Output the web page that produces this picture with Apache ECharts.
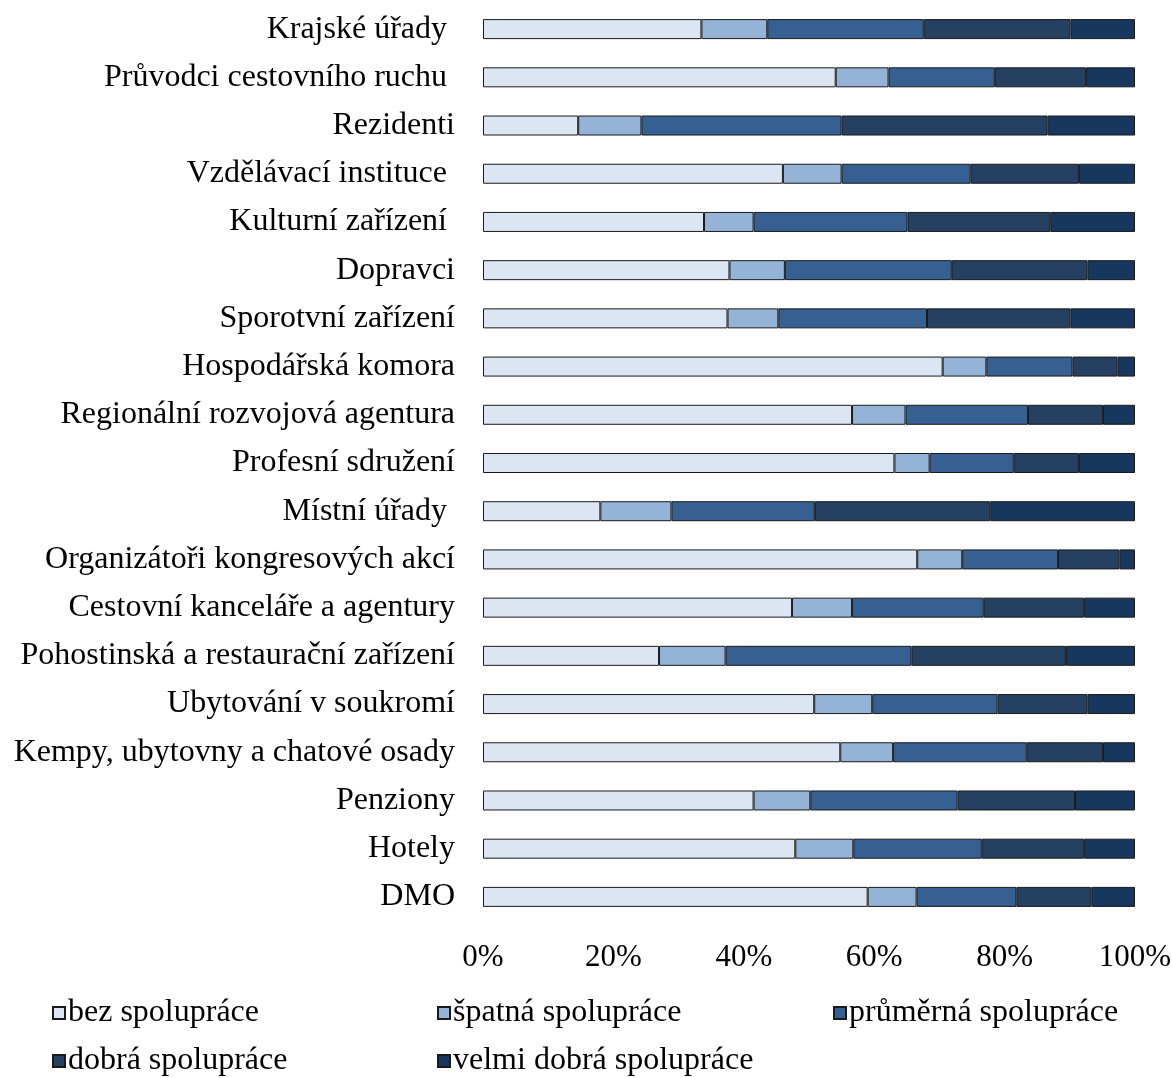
<!DOCTYPE html>
<html>
<head>
<meta charset="utf-8">
<script src="https://cdn.jsdelivr.net/npm/echarts@6/dist/echarts.min.js"></script>
<style>
  html, body { margin: 0; padding: 0; background: #ffffff; }
  #chart { width: 1172px; height: 1078px; }
</style>
</head>
<body>
<div id="chart"></div>
<script>
// Subjects of cooperation (top to bottom)
const categories = [
  'Krajské úřady ',
  'Průvodci cestovního ruchu ',
  'Rezidenti',
  'Vzdělávací instituce ',
  'Kulturní zařízení ',
  'Dopravci',
  'Sporotvní zařízení',
  'Hospodářská komora',
  'Regionální rozvojová agentura',
  'Profesní sdružení',
  'Místní úřady ',
  'Organizátoři kongresových akcí',
  'Cestovní kanceláře a agentury',
  'Pohostinská a restaurační zařízení',
  'Ubytování v soukromí',
  'Kempy, ubytovny a chatové osady',
  'Penziony',
  'Hotely',
  'DMO'
];

// Share of answers (%) per level of cooperation
const bezSpoluprace = [33.5, 54.1, 14.6, 46.0, 33.9, 37.8, 37.5, 70.5, 56.6, 63.1, 18.0, 66.6, 47.4, 27.0, 50.8, 54.8, 41.5, 47.9, 59.0];
const spatnaSpoluprace = [10.1, 8.1, 9.7, 9.0, 7.6, 8.5, 7.8, 6.7, 8.2, 5.4, 10.9, 6.9, 9.2, 10.2, 8.9, 8.1, 8.7, 8.9, 7.5];
const prumernaSpoluprace = [24.0, 16.3, 30.7, 19.8, 23.6, 25.6, 22.8, 13.2, 18.8, 12.9, 22.0, 14.7, 20.2, 28.5, 19.2, 20.5, 22.6, 19.7, 15.3];
const dobraSpoluprace = [22.5, 14.0, 31.6, 16.6, 21.9, 20.8, 22.0, 6.9, 11.5, 10.0, 26.9, 9.4, 15.4, 23.7, 13.8, 11.7, 18.0, 15.7, 11.5];
const velmiDobraSpoluprace = [9.9, 7.5, 13.4, 8.6, 13.0, 7.3, 9.9, 2.7, 4.9, 8.6, 22.2, 2.4, 7.8, 10.6, 7.3, 4.9, 9.2, 7.8, 6.7];

const seriesNames = ['bez spolupráce', 'špatná spolupráce', 'průměrná spolupráce', 'dobrá spolupráce', 'velmi dobrá spolupráce'];
const seriesValues = [bezSpoluprace, spatnaSpoluprace, prumernaSpoluprace, dobraSpoluprace, velmiDobraSpoluprace];
const colors = ['#DCE6F2', '#95B3D7', '#366092', '#254061', '#17375E'];

const FONT = "'Liberation Serif', 'Times New Roman', serif";

const labelStyle = { fontFamily: FONT, fontSize: 32, color: '#000000' };
const tickStyle = { fontFamily: FONT, fontSize: 31, color: '#000000' };

// one legend block per entry, laid out in two rows
const legendSpots = [
  { left: 52, top: 997 },
  { left: 437, top: 997 },
  { left: 833, top: 997 },
  { left: 52, top: 1045 },
  { left: 437, top: 1045 }
];

const chart = echarts.init(document.getElementById('chart'), null, { renderer: 'canvas' });

chart.setOption({
  animation: false,
  backgroundColor: '#ffffff',
  textStyle: { fontFamily: FONT },
  grid: { left: 483, right: 37, top: 5, height: 916, containLabel: false, outerBoundsMode: 'none' },
  xAxis: {
    type: 'value',
    min: 0,
    max: 100,
    interval: 20,
    axisLine: { show: false },
    axisTick: { show: false },
    splitLine: { show: false },
    axisLabel: Object.assign({ formatter: '{value}%', margin: 21 }, tickStyle)
  },
  yAxis: {
    type: 'category',
    inverse: true,
    data: categories,
    axisLine: { show: false },
    axisTick: { show: false },
    splitLine: { show: false },
    axisLabel: Object.assign({ margin: 28 }, labelStyle)
  },
  legend: legendSpots.map((spot, i) => ({
    data: [seriesNames[i]],
    left: spot.left,
    top: spot.top,
    orient: 'horizontal',
    icon: 'rect',
    itemWidth: 12,
    itemHeight: 12,
    padding: 0,
    selectedMode: false,
    textStyle: Object.assign({ padding: [0, 0, 0, -2] }, labelStyle)
  })),
  series: seriesNames.map((name, i) => ({
    name: name,
    type: 'bar',
    stack: 'total',
    barWidth: 20,
    data: seriesValues[i],
    itemStyle: {
      color: colors[i],
      borderColor: '#1a1a1a',
      borderWidth: 1
    },
    emphasis: { disabled: true }
  }))
});
</script>
</body>
</html>
